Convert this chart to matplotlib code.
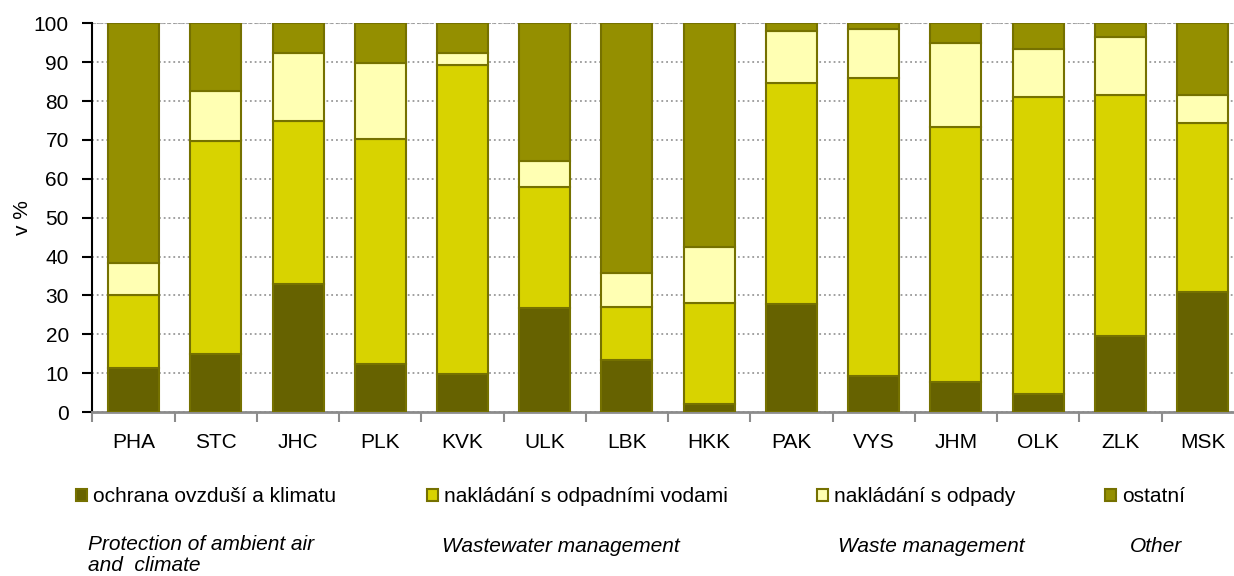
import numpy as np
import matplotlib
matplotlib.use('Agg')
import matplotlib.pyplot as plt

plt.rcParams['font.family'] = ['Liberation Sans', 'DejaVu Sans']

# kraje
regions = ['PHA', 'STC', 'JHC', 'PLK', 'KVK', 'ULK', 'LBK',
           'HKK', 'PAK', 'VYS', 'JHM', 'OLK', 'ZLK', 'MSK']

# podily v % (odhad z grafu)
ovzdusi = [11.3, 14.9, 33.0, 12.3, 9.8, 26.8, 13.4, 2.0, 27.9, 9.3, 7.7, 4.6, 19.6, 30.9]
vody = [18.9, 54.9, 41.9, 58.0, 79.4, 31.1, 13.7, 26.0, 56.8, 76.5, 65.7, 76.5, 62.0, 43.4]
odpady = [8.1, 12.8, 17.5, 19.5, 3.2, 6.7, 8.7, 14.4, 13.3, 12.7, 21.5, 12.4, 14.9, 7.2]
ostatni = [100 - a - b - c for a, b, c in zip(ovzdusi, vody, odpady)]

labels_cz = ['ochrana ovzduší a klimatu', 'nakládání s odpadními vodami',
             'nakládání s odpady', 'ostatní']
labels_en = ['Protection of ambient air\nand  climate', 'Wastewater management',
             'Waste management', 'Other']
colors = ['#666200', '#D8D300', '#FFFFB3', '#948F00']
edge = '#757100'

W, H = 1234, 576
fig = plt.figure(figsize=(W / 100, H / 100), dpi=100)
ax = fig.add_axes([92.4 / W, (H - 412) / H, (1243.8 - 92.4) / W, (412 - 23.3) / H])

x = np.arange(len(regions))
bottom = np.zeros(len(regions))
bars = []
for vals, col in zip([ovzdusi, vody, odpady, ostatni], colors):
    b = ax.bar(x, vals, width=0.62, bottom=bottom, color=col,
               edgecolor=edge, linewidth=1.5, zorder=3)
    bars.append(b)
    bottom += np.array(vals)

ax.set_xlim(-0.5, len(regions) - 0.5)
ax.set_ylim(0, 100)
ax.set_yticks(np.arange(0, 101, 10))
ax.tick_params(axis='y', labelsize=15, length=7, width=1.5, direction='out', pad=10)
ax.set_ylabel('v %', fontsize=15, labelpad=1)

# carky mezi kategoriemi, popisky uprostred
ax.set_xticks(np.arange(-0.5, len(regions), 1))
ax.set_xticklabels([])
ax.set_xticks(x, minor=True)
ax.set_xticklabels(regions, minor=True)
ax.tick_params(axis='x', which='major', length=7, width=1.5, color='#8c8c8c')
ax.tick_params(axis='x', which='minor', length=0, labelsize=15, pad=15)

ax.grid(axis='y', linestyle=':', color='#999999', linewidth=1.3, zorder=0)
for s in ['top', 'right']:
    ax.spines[s].set_visible(False)
ax.spines['left'].set_color('black')
ax.spines['left'].set_linewidth(1.5)
ax.spines['bottom'].set_color('#8c8c8c')
ax.spines['bottom'].set_linewidth(2)
ax.axhline(100, color='#b0b0b0', linewidth=1.5, linestyle=(0, (2, 1)), zorder=1)

# legenda - kazda polozka zvlast
leg_x = [76, 427, 817, 1105]
for b, lab, lx in zip(bars, labels_cz, leg_x):
    fig.legend(handles=[b], labels=[lab], loc='center left',
               bbox_to_anchor=(lx / W, 1 - 497 / H), frameon=False,
               fontsize=15, borderpad=0, borderaxespad=0,
               handlelength=0.55, handleheight=0.55, handletextpad=0.25)

en_x = [88, 442, 838, 1130]
for lab, ex in zip(labels_en, en_x):
    if '\n' in lab:
        fig.text(ex / W, 1 - 535 / H, lab, fontsize=15, style='italic',
                 ha='left', va='top', linespacing=1.12)
    else:
        fig.text(ex / W, 1 - 547 / H, lab, fontsize=15, style='italic',
                 ha='left', va='center')

fig.savefig('out.png', dpi=100)
